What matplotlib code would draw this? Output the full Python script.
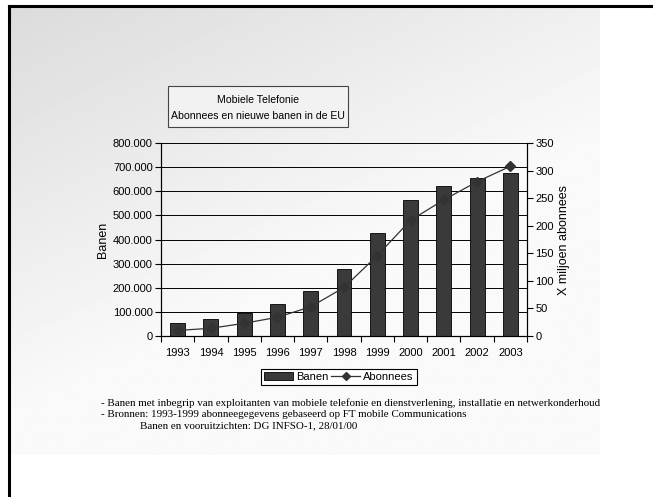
import numpy as np
import matplotlib.pyplot as plt
from matplotlib.patches import Patch, Rectangle
from matplotlib.lines import Line2D
from matplotlib.ticker import FuncFormatter

plt.rcParams['font.family'] = ['Liberation Sans', 'DejaVu Sans']

# Gegevens uit de grafiek
jaren = ['1993', '1994', '1995', '1996', '1997', '1998', '1999', '2000', '2001', '2002', '2003']
banen = [52000, 70000, 97000, 132000, 186000, 277000, 429000, 564000, 621000, 654000, 676000]
abonnees = [10, 14, 23, 34, 53, 88, 146, 210, 247, 280, 308]

fig = plt.figure(figsize=(6.53, 4.97), dpi=100)

# achtergrond met verloop
bg = fig.add_axes([0, 0, 1, 1], zorder=-10)
bg.set_xlim(0, 653)
bg.set_ylim(497, 0)
bg.axis('off')
gx, gy = np.meshgrid(np.linspace(0, 1, 300), np.linspace(0, 1, 230))
grad = np.clip(0.86 + 0.08 * gx + 0.13 * gy, 0, 0.98)
bg.imshow(grad, cmap='gray', vmin=0, vmax=1, extent=[10, 600, 455, 7], aspect='auto')
bg.plot([9, 9], [497, 6], color='black', lw=2.2)
bg.plot([9, 653], [6, 6], color='black', lw=2.2)

ax = fig.add_axes([0.2466, 0.324, 0.5604, 0.388])
ax.patch.set_alpha(0)
x = np.arange(len(jaren))
ax.bar(x, banen, width=0.45, color='#3a3a3a', edgecolor='black', linewidth=0.6, zorder=3)
ax.set_ylim(0, 800000)
ax.set_xlim(-0.5, len(jaren) - 0.5)
ax.set_yticks(np.arange(0, 800001, 100000))
ax.yaxis.set_major_formatter(FuncFormatter(lambda v, p: f'{int(v):,}'.replace(',', '.')))
for v in range(100000, 800000, 100000):
    ax.axhline(v, color='black', lw=0.7, zorder=1)
ax.set_xticks(x)
ax.set_xticklabels(jaren)
ax.set_xticks(np.arange(-0.5, len(jaren)), minor=True)
ax.tick_params(axis='x', which='major', length=0, pad=9)
ax.tick_params(axis='x', which='minor', length=4, width=0.8)
ax.tick_params(axis='y', length=4, width=0.8, pad=2)
ax.tick_params(labelsize=8)
ax.spines['top'].set_linewidth(0.7)
ax.set_ylabel('Banen', fontsize=9, labelpad=3)

ax2 = ax.twinx()
ax2.plot(x, abonnees, color='#333333', lw=0.9, marker='D', markersize=5, zorder=4)
ax2.set_ylim(0, 350)
ax2.set_yticks(np.arange(0, 351, 50))
ax2.tick_params(axis='y', length=4, width=0.8, labelsize=8, pad=2)
ax2.spines['top'].set_visible(False)
ax2.set_ylabel('X miljoen abonnees', fontsize=9, labelpad=3)

# titelkader
fig.text(258 / 653, 1 - 100 / 497, 'Mobiele Telefonie', ha='center', va='center', fontsize=7.6)
fig.text(171 / 653, 1 - 116 / 497, 'Abonnees en nieuwe banen in de EU', ha='left', va='center', fontsize=7.6)
bg.add_patch(Rectangle((168, 86), 180, 41, facecolor='#f2f2f2', edgecolor='#444444', lw=0.8))

# legenda
handles = [Patch(facecolor='#3a3a3a', edgecolor='black', linewidth=0.6),
           Line2D([0], [0], color='#333333', lw=0.9, marker='D', markersize=4)]
leg = fig.legend(handles, ['Banen', 'Abonnees'], ncol=2, loc='center',
                 bbox_to_anchor=(339 / 653, 1 - 377 / 497), fontsize=8,
                 frameon=True, fancybox=False, edgecolor='black', framealpha=1,
                 handlelength=2.6, handletextpad=0.3, columnspacing=0.2,
                 borderpad=0.3, borderaxespad=0)
leg.get_frame().set_linewidth(0.8)

# voetnoten
noten = ['- Banen met inbegrip van exploitanten van mobiele telefonie en dienstverlening, installatie en netwerkonderhoud',
         '- Bronnen: 1993-1999 abonneegegevens gebaseerd op FT mobile Communications',
         'Banen en vooruitzichten: DG INFSO-1, 28/01/00']
noot_x = [101, 101, 140]
for i, t in enumerate(noten):
    fig.text(noot_x[i] / 653, 1 - (403 + 11.5 * i) / 497, t, ha='left', va='center',
             fontsize=7.9, family=['Liberation Serif', 'DejaVu Serif'])

fig.savefig('out.png', dpi=100)
